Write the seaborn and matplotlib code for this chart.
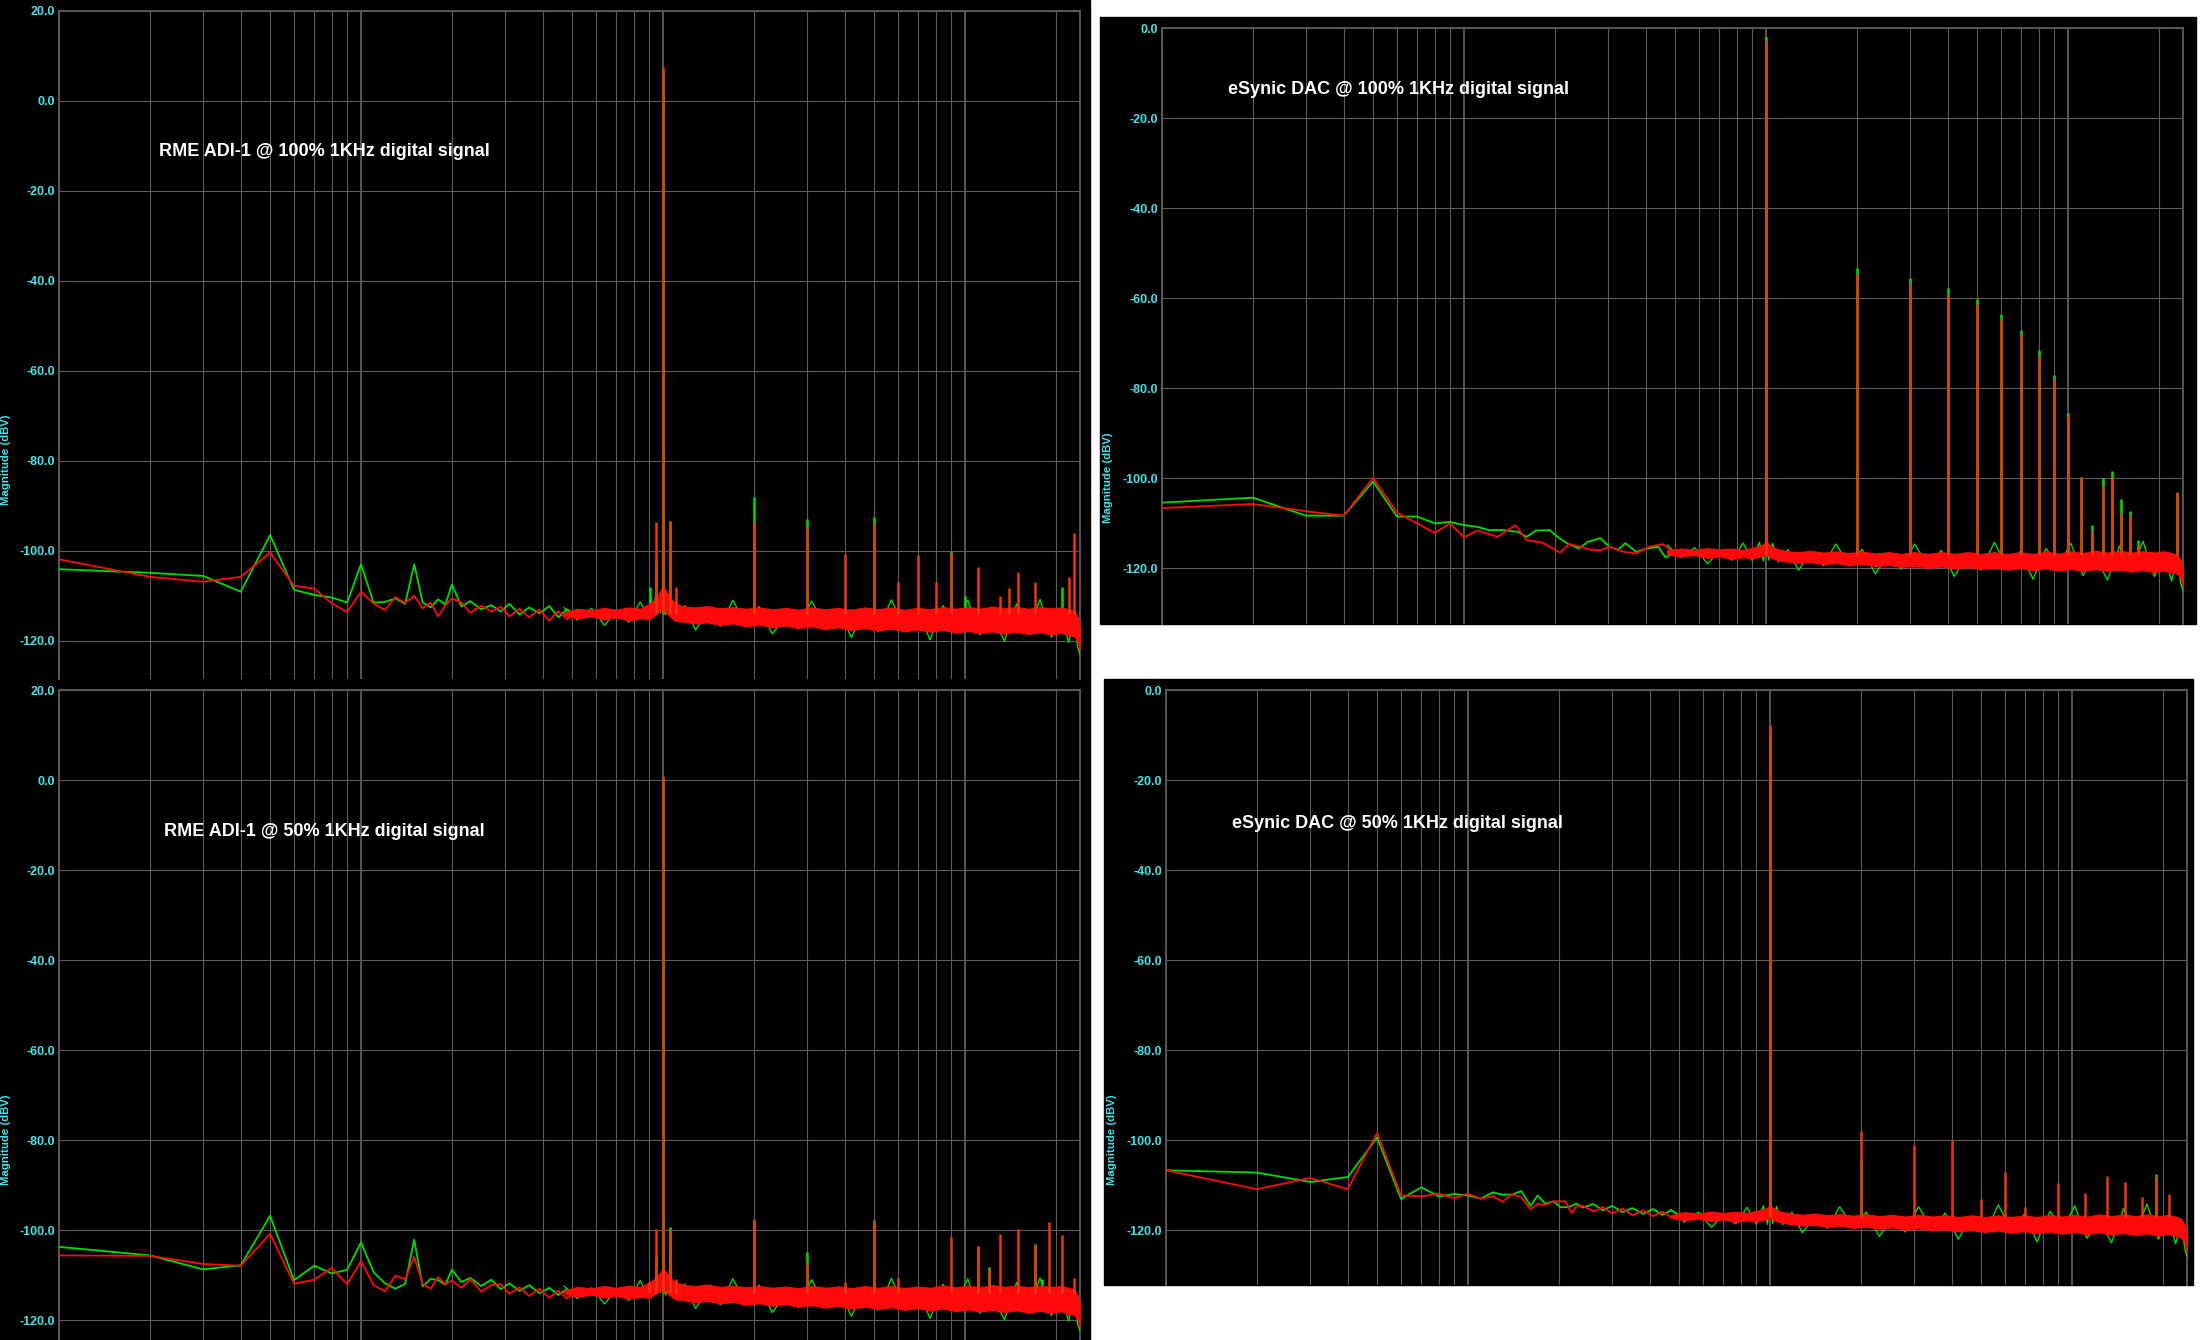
import matplotlib
matplotlib.use("Agg")
import matplotlib.pyplot as plt
from matplotlib.patches import Rectangle
from matplotlib.ticker import NullFormatter
import seaborn as sns

sns.set_theme(style="dark")
plt.rcParams["font.family"] = ["Liberation Sans", "DejaVu Sans"]

W, H = 2200, 1340
GREEN = "#00dc00"
RED = "#ff0a0a"
SPIKE_RED = "#e8380e"
GRID = "#5c5c5c"
CYAN = "#3fe3ea"

titles = ["RME ADI-1 @ 100% 1KHz digital signal",
          "RME ADI-1 @ 50% 1KHz digital signal",
          "eSynic DAC @ 100% 1KHz digital signal",
          "eSynic DAC @ 50% 1KHz digital signal"]

# ---- low frequency bins (Hz, dBV) ----
tl_lo_f = [10, 20, 30, 40, 50, 60, 70, 80, 90, 100, 110, 120, 130, 140, 150, 160, 170,
           180, 190, 200, 215, 230, 250, 270, 290, 310, 335, 360, 390, 420, 450, 480, 510]
tl_lo_green = [-104.1, -104.9, -105.6, -109.1, -96.5, -108.7, -109.8, -110.4, -111.5, -103.0,
               -111.5, -111.4, -110.6, -111.8, -103.0, -111.5, -112.6, -110.8, -112.0, -107.5,
               -112.4, -111.2, -113.0, -112.1, -113.5, -111.8, -114.2, -112.6, -113.9, -112.3,
               -114.8, -113.0, -114.1]
tl_lo_red = [-101.9, -105.8, -106.9, -105.8, -100.4, -107.8, -108.4, -111.7, -113.6, -109.1,
             -111.7, -113.2, -110.3, -111.6, -110.0, -112.8, -111.5, -114.6, -112.2, -110.6,
             -111.5, -113.8, -112.2, -113.5, -112.4, -114.6, -112.9, -114.8, -113.1, -115.6,
             -113.4, -115.2, -113.8]

bl_lo_f = tl_lo_f
bl_lo_green = [-103.7, -105.6, -108.7, -107.8, -96.8, -111.1, -107.9, -109.6, -108.8, -102.7,
               -109.3, -111.8, -113.0, -111.9, -102.1, -112.5, -110.8, -111.1, -112.1, -108.8,
               -111.5, -110.6, -112.4, -111.0, -113.1, -111.8, -113.5, -112.2, -114.0, -112.8,
               -114.4, -113.1, -114.3]
bl_lo_red = [-105.6, -105.7, -107.5, -107.9, -100.8, -111.9, -111.0, -108.4, -112.0, -106.9,
             -112.2, -113.6, -110.1, -110.9, -105.9, -111.9, -113.0, -110.4, -112.0, -111.2,
             -112.8, -110.9, -113.6, -112.2, -112.0, -114.1, -112.7, -114.6, -113.0, -115.0,
             -113.4, -115.2, -113.9]

tr_lo_f_green = [10, 20, 30, 40, 50, 60, 70, 80, 90, 100, 111, 121, 134, 151, 161, 173, 192,
                 205, 219, 240, 257, 283, 303, 323, 342, 371, 404, 440, 465, 505]
tr_lo_green = [-105.4, -104.3, -108.3, -108.3, -100.7, -108.5, -108.5, -110.0, -109.7, -110.4,
               -110.8, -111.5, -111.5, -111.9, -113.0, -111.6, -111.5, -113.1, -114.4, -115.6,
               -114.1, -113.3, -115.2, -115.9, -114.4, -116.3, -115.6, -115.2, -117.6, -116.3]
tr_lo_f_red = [10, 20, 30, 40, 50, 60, 70, 80, 90, 100, 111, 129, 148, 161, 182, 208, 222,
               243, 260, 283, 303, 336, 371, 411, 455, 505]
tr_lo_red = [-106.6, -105.7, -107.3, -108.3, -99.9, -107.6, -110.0, -112.1, -110.0, -113.1,
             -111.6, -113.0, -110.4, -113.7, -114.3, -116.5, -114.6, -115.2, -115.8, -116.0,
             -115.2, -116.3, -116.7, -115.2, -114.6, -116.9]

br_lo_f_green = [10, 20, 30, 40, 50, 60, 70, 80, 90, 100, 110, 121, 129, 140, 150, 161, 170,
                 180, 192, 202, 215, 229, 240, 260, 280, 300, 325, 350, 380, 410, 440, 470, 505]
br_lo_green = [-106.7, -107.2, -109.3, -108.2, -99.4, -113.1, -110.5, -112.5, -112.0, -112.3,
               -113.0, -111.6, -112.1, -112.1, -111.3, -114.6, -112.3, -114.1, -113.6, -114.9,
               -114.9, -114.1, -115.0, -114.2, -115.6, -114.6, -116.0, -115.1, -116.4, -115.3,
               -116.6, -115.6, -116.8]
br_lo_f_red = [10, 20, 30, 40, 50, 60, 70, 80, 90, 100, 110, 121, 130, 140, 150, 161, 170,
               180, 192, 210, 220, 229, 240, 260, 280, 300, 325, 350, 380, 410, 440, 470, 505]
br_lo_red = [-106.7, -110.9, -108.4, -110.9, -98.4, -112.3, -112.5, -111.9, -112.9, -111.9,
             -113.0, -112.5, -113.7, -112.0, -112.7, -115.3, -114.2, -114.4, -113.6, -113.6,
             -116.2, -114.6, -114.6, -115.8, -114.9, -116.3, -115.2, -116.7, -115.6, -116.9,
             -115.9, -117.1, -116.2]

# ---- noise floor above 470 Hz: red band (low / high) and green trace (dBV) ----
nf_f = [470, 520, 580, 640, 700, 770, 840, 900, 950, 980, 1000, 1020, 1050, 1100, 1180,
        1280, 1400, 1550, 1700, 1880, 2080, 2300, 2550, 2800, 3100, 3450, 3800, 4200, 4650,
        5150, 5700, 6300, 6950, 7650, 8450, 9300, 10200, 11200, 12300, 13500, 14800, 16200,
        17700, 19300, 20800, 22000, 23000, 23600, 24000]

tl_nf_red_lo = [-114.3, -115.0, -114.6, -115.3, -114.8, -115.5, -115.0, -115.2, -114.0, -113.2,
                -112.8, -113.5, -114.5, -115.6, -115.8, -116.2, -115.9, -116.5, -116.1, -116.8,
                -116.4, -117.0, -116.6, -117.2, -116.8, -117.4, -117.0, -117.6, -117.2, -117.7,
                -117.3, -117.9, -117.5, -118.0, -117.6, -118.2, -117.8, -118.3, -117.9, -118.4,
                -118.0, -118.5, -118.1, -118.6, -118.2, -118.8, -119.0, -120.2, -122.0]
tl_nf_red_hi = [-113.7, -112.9, -113.2, -112.7, -113.1, -112.6, -112.9, -111.8, -110.5, -109.0,
                -108.0, -108.8, -110.2, -111.8, -112.4, -112.6, -112.3, -112.8, -112.5, -112.9,
                -112.6, -113.0, -112.7, -113.1, -112.6, -113.0, -112.7, -113.1, -112.6, -113.0,
                -112.6, -113.1, -112.7, -113.0, -112.5, -112.9, -112.5, -112.9, -112.4, -112.8,
                -112.5, -112.9, -112.5, -112.8, -112.6, -113.0, -113.4, -114.8, -117.0]
tl_nf_green = [-112.6, -115.4, -112.8, -116.6, -113.4, -115.9, -111.4, -115.0, -109.8, -113.8,
               -107.0, -114.2, -109.6, -115.2, -112.2, -117.6, -114.0, -116.8, -111.0, -116.0,
               -112.4, -118.5, -114.5, -117.4, -111.2, -116.5, -112.8, -119.3, -113.5, -118.0,
               -110.9, -117.2, -113.0, -119.8, -112.2, -116.9, -111.0, -118.7, -114.6, -120.1,
               -111.8, -117.8, -110.8, -119.2, -113.6, -120.4, -115.0, -121.5, -123.0]

bl_nf_red_lo = [-114.0, -114.8, -114.3, -115.0, -114.6, -115.2, -114.8, -115.0, -114.0, -113.4,
                -113.0, -113.6, -114.4, -115.4, -115.6, -116.0, -115.7, -116.3, -115.9, -116.6,
                -116.2, -116.8, -116.4, -117.0, -116.6, -117.2, -116.8, -117.4, -117.0, -117.5,
                -117.1, -117.7, -117.3, -117.8, -117.4, -118.0, -117.6, -118.1, -117.7, -118.2,
                -117.8, -118.3, -117.9, -118.4, -118.0, -118.6, -118.8, -119.8, -121.5]
bl_nf_red_hi = [-113.4, -112.6, -112.9, -112.4, -112.8, -112.3, -112.6, -111.6, -110.6, -109.4,
                -108.6, -109.2, -110.4, -111.6, -112.2, -112.4, -112.1, -112.6, -112.3, -112.7,
                -112.4, -112.8, -112.5, -112.9, -112.4, -112.8, -112.5, -112.9, -112.4, -112.8,
                -112.4, -112.9, -112.5, -112.8, -112.3, -112.7, -112.3, -112.7, -112.2, -112.6,
                -112.3, -112.7, -112.3, -112.6, -112.4, -112.8, -113.2, -114.6, -116.5]
bl_nf_green = [-112.4, -115.2, -112.8, -116.4, -113.2, -115.6, -111.2, -115.0, -110.0, -113.9,
               -107.6, -114.4, -109.8, -115.0, -112.0, -117.4, -113.8, -116.6, -110.8, -115.8,
               -112.2, -118.3, -114.2, -117.2, -111.0, -116.3, -112.6, -119.1, -113.3, -117.8,
               -110.7, -117.0, -112.8, -119.6, -112.0, -116.7, -110.8, -118.5, -114.4, -119.9,
               -111.6, -117.6, -110.6, -119.0, -113.4, -120.2, -114.8, -121.0, -122.5]

tr_nf_red_lo = [-116.8, -117.4, -117.0, -117.7, -117.3, -117.9, -117.5, -117.8, -117.4, -117.2,
                -117.0, -117.3, -117.8, -118.2, -118.5, -118.8, -118.6, -119.1, -118.8, -119.3,
                -119.0, -119.5, -119.2, -119.7, -119.4, -119.9, -119.6, -120.0, -119.7, -120.1,
                -119.8, -120.3, -119.9, -120.4, -120.0, -120.5, -120.1, -120.6, -120.2, -120.6,
                -120.3, -120.7, -120.4, -120.8, -120.5, -120.9, -121.2, -122.0, -124.0]
tr_nf_red_hi = [-116.0, -115.6, -115.9, -115.5, -115.8, -115.6, -115.9, -115.4, -115.0, -114.6,
                -114.0, -114.6, -115.2, -115.8, -116.2, -116.4, -116.1, -116.5, -116.2, -116.6,
                -116.3, -116.7, -116.4, -116.8, -116.4, -116.8, -116.4, -116.8, -116.4, -116.8,
                -116.4, -116.8, -116.4, -116.8, -116.3, -116.7, -116.2, -116.6, -116.1, -116.5,
                -116.1, -116.5, -116.2, -116.5, -116.2, -116.6, -117.0, -118.2, -120.5]
tr_nf_green = [-114.8, -117.6, -115.4, -119.0, -116.2, -118.2, -114.4, -118.3, -114.2, -118.4,
               -113.2, -118.2, -114.4, -118.6, -115.8, -120.4, -116.8, -119.4, -114.6, -119.0,
               -115.8, -121.2, -117.0, -120.2, -114.6, -119.6, -116.0, -121.8, -116.8, -120.4,
               -114.2, -119.8, -116.2, -122.4, -115.6, -119.6, -114.4, -121.6, -117.4, -122.6,
               -115.0, -120.2, -114.0, -121.8, -116.6, -122.8, -117.8, -123.4, -125.0]

br_nf_red_lo = [-117.3, -117.8, -117.4, -118.0, -117.6, -118.2, -117.8, -118.1, -117.7, -117.5,
                -117.3, -117.6, -118.0, -118.4, -118.7, -119.0, -118.8, -119.3, -119.0, -119.5,
                -119.2, -119.7, -119.4, -119.9, -119.6, -120.1, -119.8, -120.3, -120.0, -120.4,
                -120.1, -120.6, -120.2, -120.7, -120.3, -120.8, -120.4, -120.9, -120.5, -121.0,
                -120.6, -121.1, -120.7, -121.2, -120.8, -121.3, -121.7, -122.6, -124.8]
br_nf_red_hi = [-116.7, -116.0, -116.3, -115.9, -116.2, -115.9, -116.2, -115.7, -115.4, -115.0,
                -114.5, -115.0, -115.5, -116.0, -116.3, -116.6, -116.3, -116.7, -116.4, -116.8,
                -116.5, -116.9, -116.6, -117.0, -116.6, -117.0, -116.7, -117.1, -116.7, -117.1,
                -116.7, -117.1, -116.7, -117.1, -116.6, -117.0, -116.6, -117.0, -116.5, -116.9,
                -116.5, -116.9, -116.5, -116.9, -116.6, -117.0, -117.5, -118.8, -121.5]
br_nf_green = [-115.4, -118.2, -116.0, -119.4, -116.5, -118.6, -114.9, -118.7, -114.6, -118.7,
               -113.6, -118.5, -114.7, -118.8, -116.0, -120.6, -117.0, -119.6, -114.8, -119.2,
               -116.0, -121.4, -117.2, -120.4, -114.8, -119.8, -116.2, -122.0, -117.0, -120.6,
               -114.4, -120.0, -116.4, -122.6, -115.8, -119.8, -114.6, -121.8, -117.6, -122.8,
               -115.2, -120.4, -114.2, -122.0, -116.8, -123.0, -118.4, -124.0, -126.0]

# ---- fundamental, sidebands and harmonics (Hz, peak dBV) ----
tl_spk_green_f = [904, 950, 1000, 1050, 2000, 3000, 5000, 9000, 10000, 21000]
tl_spk_green = [-108.0, -102.0, 6.5, -93.3, -88.0, -93.0, -92.6, -100.0, -110.0, -108.1]
tl_spk_red_f = [950, 1000, 1050, 1100, 2000, 3000, 4000, 5000, 6000, 7000, 8000, 9000, 11000,
                13000, 14000, 15000, 17000, 22000, 23000]
tl_spk_red = [-93.6, 7.5, -93.4, -108.0, -93.6, -94.7, -100.7, -93.9, -107.0, -101.0, -107.0,
              -100.4, -103.7, -110.1, -108.3, -104.7, -106.9, -105.9, -96.0]

bl_spk_green_f = [950, 1000, 1050, 2000, 3000, 5000, 11000, 12000, 17000, 18000]
bl_spk_green = [-105.9, 0.5, -99.3, -97.8, -104.8, -97.7, -103.5, -108.2, -103.0, -110.9]
bl_spk_red_f = [900, 950, 1000, 1050, 1100, 2000, 3000, 4000, 5000, 6000, 9000, 11000, 12000,
                13000, 15000, 17000, 19000, 21000, 23000]
bl_spk_red = [-111.4, -99.8, 1.0, -99.9, -110.9, -97.5, -107.3, -111.4, -97.9, -110.7, -101.6,
              -103.5, -108.6, -100.8, -99.7, -103.3, -98.1, -101.0, -110.6]

tr_spk_f = [1000, 2000, 3000, 4000, 5000, 6000, 7000, 8000, 9000, 10000, 11000, 12000, 13000,
            14000, 15000, 16000, 17000, 23000]
tr_spk_green = [-2.0, -53.3, -55.4, -57.7, -60.2, -63.5, -67.0, -71.5, -77.0, -85.4, -99.6,
                -110.3, -100.0, -98.3, -104.7, -107.2, -113.6, -103.2]
tr_spk_red = [-2.5, -54.7, -56.7, -59.0, -61.3, -64.6, -68.2, -72.8, -77.9, -86.2, -99.8,
              -111.4, -101.6, -100.0, -107.6, -108.2, -114.9, -103.0]

br_spk_green_f = [1000, 2000, 19000]
br_spk_green = [-8.3, -104.4, -107.5]
br_spk_red_f = [1000, 2000, 3000, 4000, 5000, 6000, 7000, 9000, 11000, 13000, 15000, 17000,
                19000, 21000]
br_spk_red = [-7.8, -97.9, -101.0, -99.9, -113.0, -107.0, -114.9, -109.6, -111.8, -107.9,
              -109.2, -112.7, -108.1, -112.0]

grid_major = [10, 100, 1000, 10000]
grid_minor = [20, 30, 40, 50, 60, 70, 80, 90, 200, 300, 400, 500, 600, 700, 800, 900,
              2000, 3000, 4000, 5000, 6000, 7000, 8000, 9000, 20000]


fig = plt.figure(figsize=(W / 100, H / 100), dpi=100, facecolor="white")

# black screenshot backgrounds (pixel boxes: left, top, right, bottom)
for l, t, r, b in [(0, 0, 1090, 1340), (1100, 17, 2196, 624), (1104, 679, 2193, 1285)]:
    fig.patches.append(Rectangle((l / W, 1 - b / H), (r - l) / W, (b - t) / H,
                                 transform=fig.transFigure, color="black", zorder=-5))


def panel(box, ylim, yticks, lo_fg, lo_g, lo_fr, lo_r, nf_g, nf_r_lo, nf_r_hi,
          sg_f, sg, sr_f, sr, base):
    l, t, r, b = box
    ax = fig.add_axes([l / W, 1 - b / H, (r - l) / W, (b - t) / H])
    ax.set_facecolor("black")
    ax.set_xscale("log")

    # green channel (drawn first, red lies on top)
    sns.lineplot(x=lo_fg, y=lo_g, ax=ax, color=GREEN, lw=1.3, estimator=None,
                 sort=False, zorder=3)
    sns.lineplot(x=nf_f, y=nf_g, ax=ax, color=GREEN, lw=1.0, estimator=None,
                 sort=False, zorder=3)
    ax.vlines(sg_f, base, sg, color=GREEN, lw=1.8, zorder=3)
    # red channel
    ax.fill_between(nf_f, nf_r_lo, nf_r_hi, color=RED, lw=0.8, zorder=4)
    sns.lineplot(x=lo_fr, y=lo_r, ax=ax, color=RED, lw=1.3, estimator=None,
                 sort=False, zorder=5)
    ax.vlines(sr_f, base, sr, color=SPIKE_RED, lw=1.8, zorder=5)

    ax.set_xlim(10, 24000)
    ax.set_ylim(*ylim)
    ax.set_xlabel("")
    ax.set_ylabel("")
    ax.set_xticks(grid_major)
    ax.set_xticks(grid_minor, minor=True)
    ax.xaxis.set_major_formatter(NullFormatter())
    ax.xaxis.set_minor_formatter(NullFormatter())
    ax.set_yticks(yticks)
    ax.set_yticklabels([f"{v:.1f}" for v in yticks])
    ax.set_axisbelow(True)
    ax.grid(True, which="major", axis="x", color=GRID, lw=1.3)
    ax.grid(True, which="minor", axis="x", color=GRID, lw=0.8)
    ax.grid(True, which="major", axis="y", color=GRID, lw=0.8)
    ax.tick_params(which="both", length=0, labelbottom=False)
    ax.tick_params(axis="y", labelcolor=CYAN, labelsize=9, pad=3)
    for lab in ax.get_yticklabels():
        lab.set_fontweight("bold")
    for side in ["top", "left", "right"]:
        ax.spines[side].set_color(GRID)
        ax.spines[side].set_linewidth(1.3)
    ax.spines["bottom"].set_visible(False)
    return ax


left_ticks = list(range(20, -121, -20))
right_ticks = list(range(0, -121, -20))

panel((59, 10.7, 1080, 679), (-128.5, 20), left_ticks,
      tl_lo_f, tl_lo_green, tl_lo_f, tl_lo_red,
      tl_nf_green, tl_nf_red_lo, tl_nf_red_hi,
      tl_spk_green_f, tl_spk_green, tl_spk_red_f, tl_spk_red, -114)
panel((59, 690.3, 1080, 1340), (-124.4, 20), left_ticks,
      bl_lo_f, bl_lo_green, bl_lo_f, bl_lo_red,
      bl_nf_green, bl_nf_red_lo, bl_nf_red_hi,
      bl_spk_green_f, bl_spk_green, bl_spk_red_f, bl_spk_red, -114)
panel((1162, 28.3, 2183, 623.7), (-132.3, 0), right_ticks,
      tr_lo_f_green, tr_lo_green, tr_lo_f_red, tr_lo_red,
      tr_nf_green, tr_nf_red_lo, tr_nf_red_hi,
      tr_spk_f, tr_spk_green, tr_spk_f, tr_spk_red, -117)
panel((1166, 690.3, 2187, 1285), (-132.2, 0), right_ticks,
      br_lo_f_green, br_lo_green, br_lo_f_red, br_lo_red,
      br_nf_green, br_nf_red_lo, br_nf_red_hi,
      br_spk_green_f, br_spk_green, br_spk_red_f, br_spk_red, -117)

# titles and axis labels as placed in the screenshots (pixel positions)
for (x, y), txt in zip([(159, 152), (164, 832), (1228, 89), (1232, 824)], titles):
    fig.text(x / W, 1 - y / H, txt, color="white", fontsize=13, fontweight="bold",
             ha="left", va="center")
for x, y in [(6, 460), (6, 1140), (1108, 478), (1112, 1140)]:
    fig.text(x / W, 1 - y / H, "Magnitude (dBV)", color=CYAN, fontsize=8.2,
             fontweight="bold", rotation=90, ha="center", va="center")

fig.savefig("out.png", dpi=100, facecolor="white")
